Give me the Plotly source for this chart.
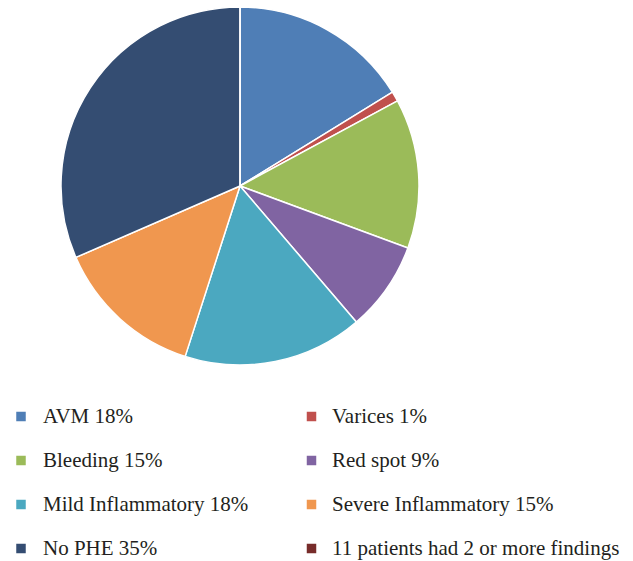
import plotly.graph_objects as go

labels = ["AVM 18%", "Varices 1%", "Bleeding 15%", "Red spot 9%",
          "Mild Inflammatory 18%", "Severe Inflammatory 15%", "No PHE 35%",
          "11 patients had 2 or more findings"]
values = [18, 1, 15, 9, 18, 15, 35, 0]
colors = ["#4F7EB6", "#C0504D", "#9BBB59", "#8064A2",
          "#4BA8C0", "#F0974F", "#344D72", "#772C2A"]

W, H = 633, 561
fig = go.Figure()
fig.add_trace(go.Pie(
    labels=labels, values=values, sort=False, direction="clockwise",
    rotation=0, textinfo="none", hoverinfo="label+value",
    marker=dict(colors=colors, line=dict(color="white", width=1.5)),
    domain=dict(x=[(240 - 179) / W, (240 + 179) / W], y=[1 - 365 / H, 1 - 7 / H]),
    showlegend=False,
))

# Manual two-column legend built from the label/colour lists
col_marker_x = [21, 311.5]
col_text_x = [41, 330]
row_y = [416.5, 460.5, 504.5, 548.5]
msize = 9.5
shapes, annots = [], []
for i, (lab, c) in enumerate(zip(labels, colors)):
    r, col = divmod(i, 2)
    cx, cy = col_marker_x[col], row_y[r]
    shapes.append(dict(type="rect", xref="paper", yref="paper",
                       x0=(cx - msize / 2) / W, x1=(cx + msize / 2) / W,
                       y0=1 - (cy + msize / 2) / H, y1=1 - (cy - msize / 2) / H,
                       fillcolor=c, line=dict(width=0)))
    annots.append(dict(text=lab, xref="paper", yref="paper",
                       x=col_text_x[col] / W, y=1 - (cy - 1) / H,
                       xanchor="left", yanchor="middle", showarrow=False,
                       font=dict(family="Liberation Serif", size=21, color="#231F20")))

fig.update_layout(width=W, height=H, margin=dict(l=0, r=0, t=0, b=0),
                  paper_bgcolor="white", plot_bgcolor="white",
                  shapes=shapes, annotations=annots)
fig.write_html("out.html", config={"displayModeBar": False},
               post_script="document.body.style.margin='0';document.body.style.overflow='hidden';")
